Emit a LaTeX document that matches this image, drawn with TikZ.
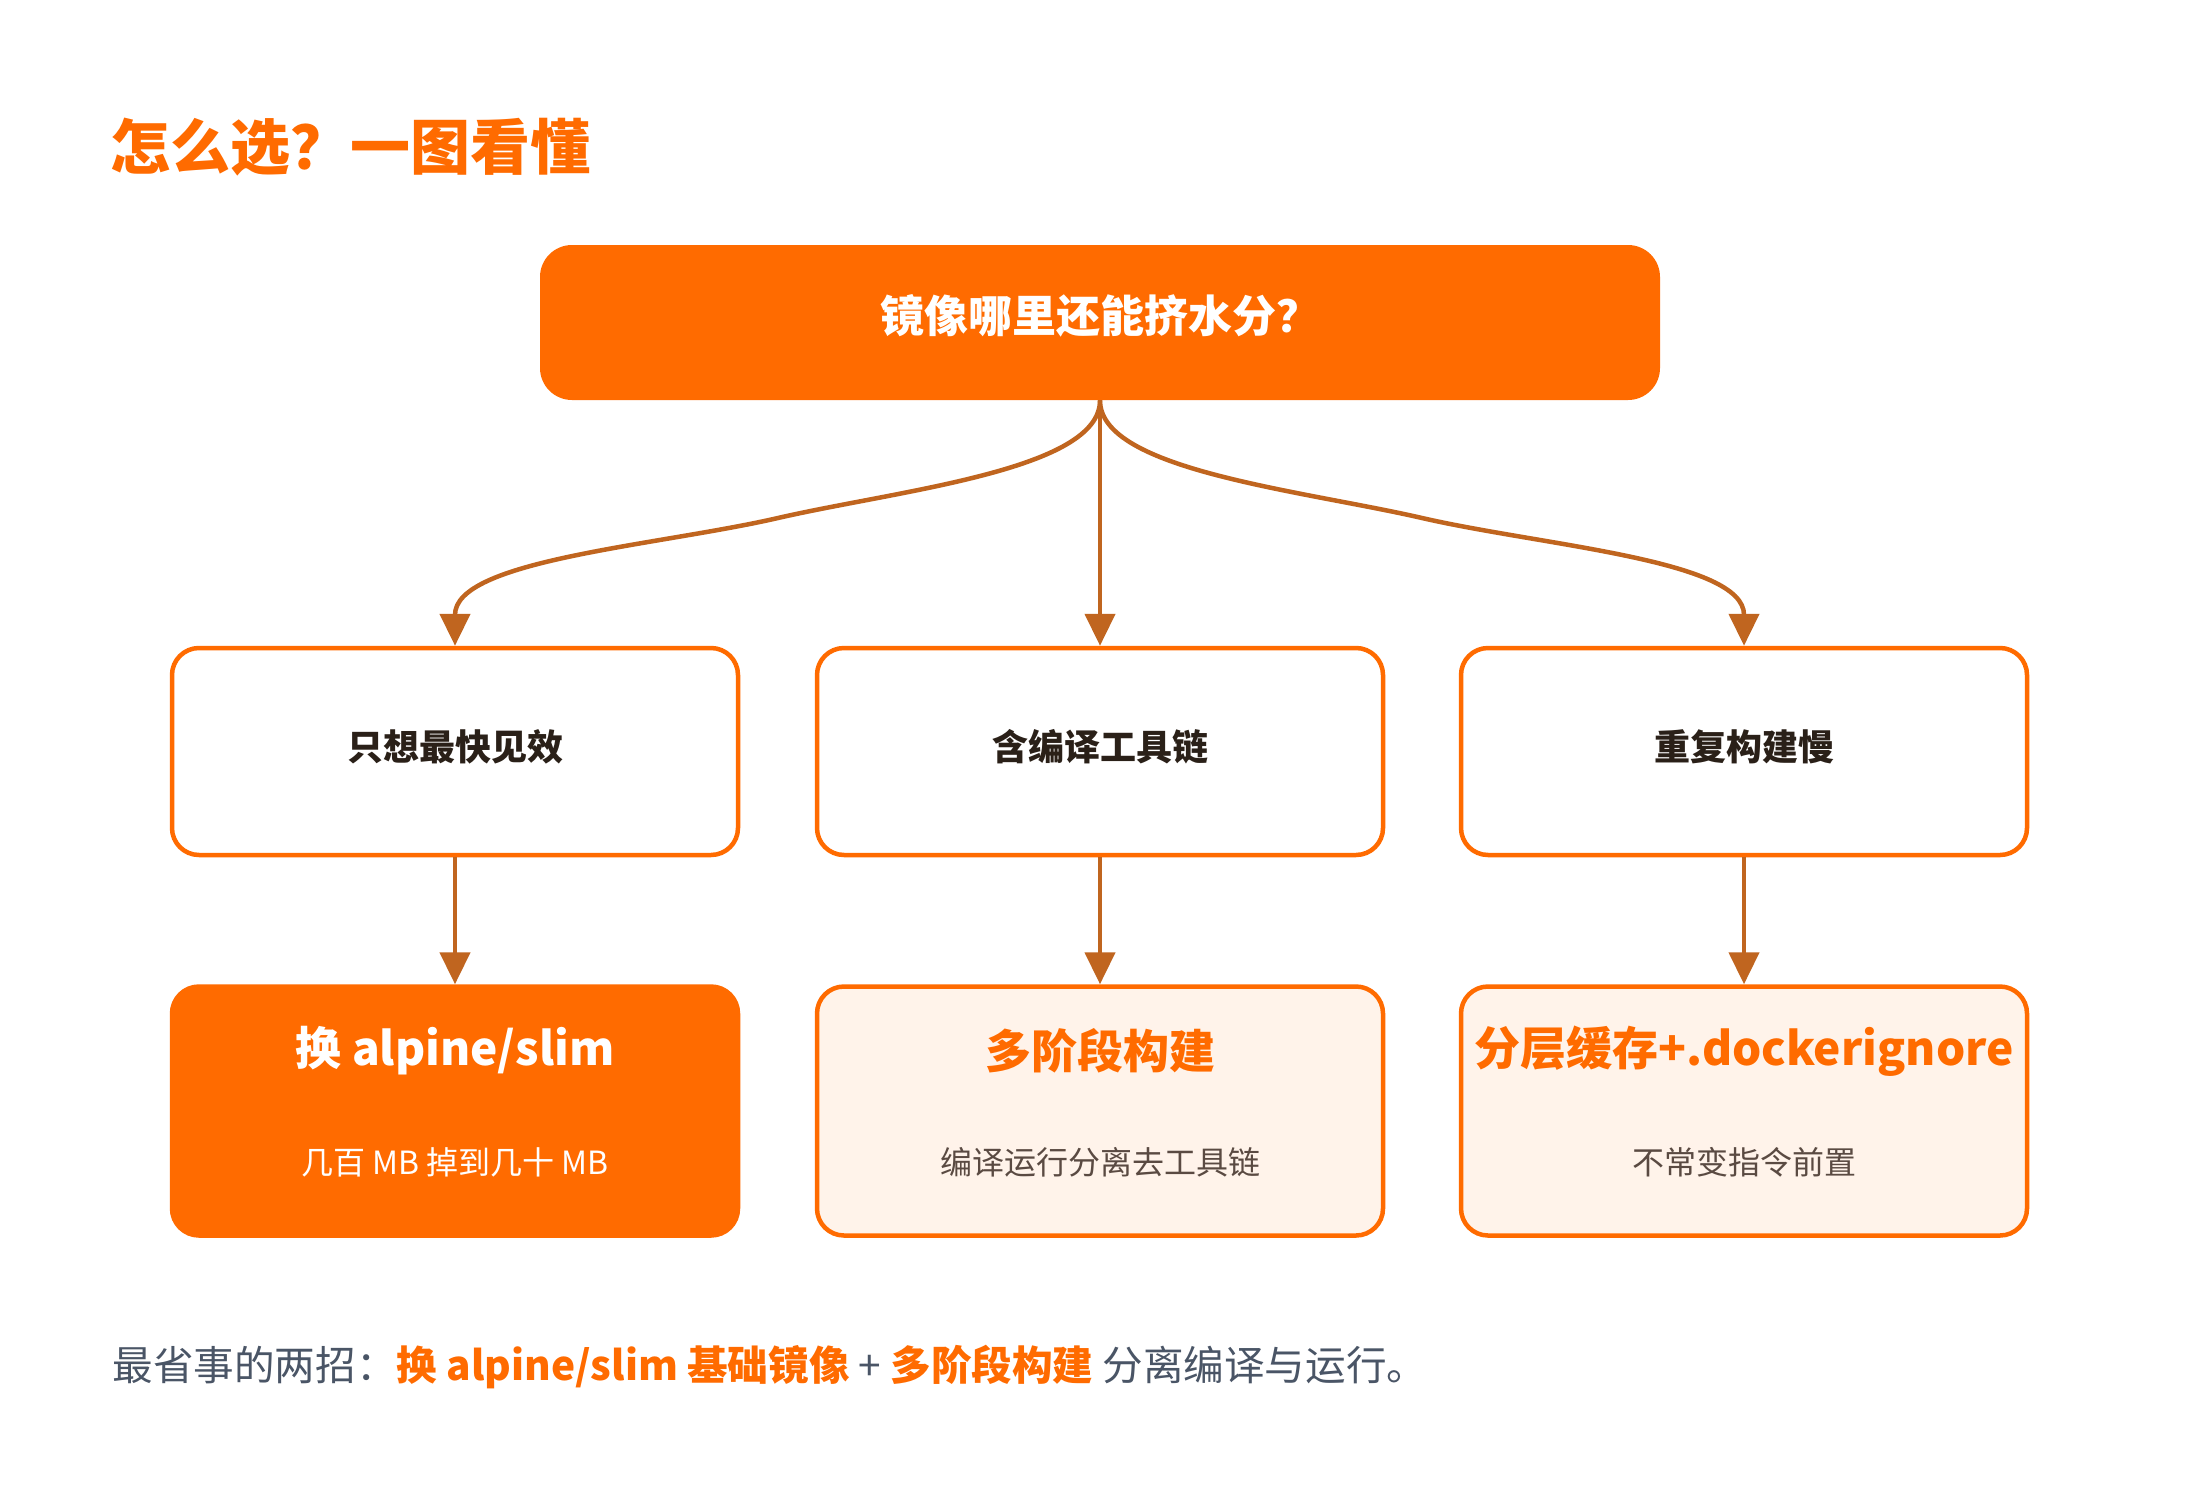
\documentclass[tikz,border=0pt]{standalone}
\usepackage{fontspec}
\setmainfont{Noto Sans CJK SC}
\usetikzlibrary{arrows.meta}
\definecolor{orng}{HTML}{FF6B00}
\definecolor{lightor}{HTML}{FFF3EA}
\definecolor{conn}{HTML}{C0651F}
\definecolor{darktxt}{HTML}{2A2018}
\definecolor{graytxt}{HTML}{4A5566}
\definecolor{subtxt}{HTML}{5A4A42}
\begin{document}
\begin{tikzpicture}[x=0.5pt,y=-0.5pt,
  midbox/.style={draw=orng, fill=white, line width=2.25pt, rounded corners=13.5pt,
    minimum width=283pt, minimum height=103.5pt, inner sep=0pt},
  midtxt/.style={text=darktxt, inner sep=0pt, font=\bfseries\fontsize{18pt}{22pt}\selectfont},
  botbox/.style={draw=orng, fill=lightor, line width=2.25pt, rounded corners=13.5pt,
    minimum width=283pt, minimum height=124.5pt, inner sep=0pt},
  botfill/.style={draw=orng, fill=orng, line width=2.25pt, rounded corners=13.5pt,
    minimum width=283pt, minimum height=124.5pt, inner sep=0pt},
  bttl/.style={font=\bfseries\fontsize{23pt}{27pt}\selectfont, inner sep=0pt},
  bsub/.style={font=\fontsize{16pt}{19pt}\selectfont, inner sep=0pt},
  link/.style={draw=conn, line width=2.25pt, -{Triangle[length=16pt,width=15pt]}}
]
\useasboundingbox[fill=white] (0,0) rectangle (2200,1488);

% title
\node[anchor=west, inner sep=0pt, text=orng, font=\bfseries\fontsize{30pt}{36pt}\selectfont] (title) at (110,147) {怎么选？一图看懂};

% top node
\node[fill=orng, rounded corners=16pt, minimum width=560pt, minimum height=77.5pt, inner sep=0pt] (top) at (1100,322.5) {};
\node[inner sep=0pt, text=white, font=\bfseries\fontsize{22pt}{26pt}\selectfont] (toptxt) at (1100,315.5) {镜像哪里还能挤水分？};

% middle row
\node[midbox] (m1) at (455,751.5) {};
\node[midbox] (m2) at (1100,751.5) {};
\node[midbox] (m3) at (1744,751.5) {};
\node[midtxt] (m1t) at (455,747) {只想最快见效};
\node[midtxt] (m2t) at (1100,747) {含编译工具链};
\node[midtxt] (m3t) at (1744,747) {重复构建慢};

% bottom row
\node[botfill] (b1) at (455,1111) {};
\node[botbox] (b2) at (1100,1111) {};
\node[botbox] (b3) at (1744,1111) {};

\node[bttl, text=white] (b1t) at (455,1051) {换 alpine/slim};
\node[bsub, text=white] (b1s) at (455,1162) {几百 MB 掉到几十 MB};
\node[bttl, text=orng] (b2t) at (1100,1051) {多阶段构建};
\node[bsub, text=subtxt] (b2s) at (1100,1162) {编译运行分离去工具链};
\node[bttl, text=orng] (b3t) at (1744,1051) {分层缓存+.dockerignore};
\node[bsub, text=subtxt] (b3s) at (1744,1162) {不常变指令前置};

% connectors
\draw[link] (top.south) .. controls (1100,470) and (900,490) .. (778,518)
  .. controls (656,546) and (m1.north |- 0,560) .. (m1.north);
\draw[link] (top.south) -- (m2.north);
\draw[link] (top.south) .. controls (1100,470) and (1300,490) .. (1422,518)
  .. controls (1544,546) and (m3.north |- 0,560) .. (m3.north);
\draw[link] (m1.south) -- (b1.north);
\draw[link] (m2.south) -- (b2.north);
\draw[link] (m3.south) -- (b3.north);

% footer
\node[anchor=west, inner sep=0pt, text=graytxt, font=\fontsize{20.3pt}{24pt}\selectfont] (foot) at (112,1367)
  {最省事的两招：{\bfseries\color{orng}换 alpine/slim 基础镜像} + {\bfseries\color{orng}多阶段构建} 分离编译与运行。};
\end{tikzpicture}
\end{document}
